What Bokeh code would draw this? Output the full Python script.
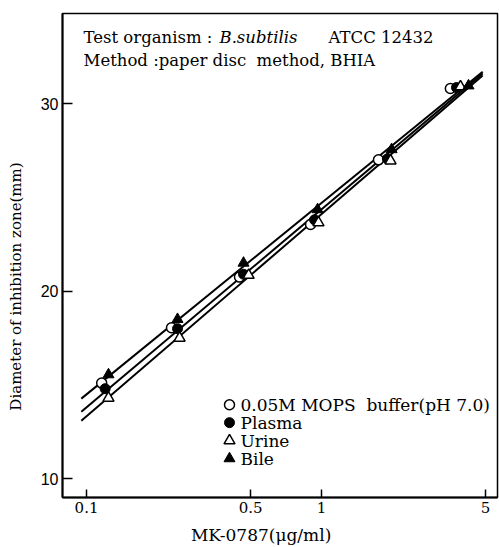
import math
from bokeh.plotting import figure
from bokeh.models import Range1d, FixedTicker, Label
from bokeh.embed import file_html
from bokeh.resources import INLINE

# ---- data ----
mops_x = [0.116, 0.230, 0.448, 0.899, 1.75, 3.54]
mops_y = [15.1, 18.05, 20.75, 23.55, 27.0, 30.8]
plasma_x = [0.120, 0.244, 0.466, 0.935, 1.91, 3.76]
plasma_y = [14.8, 18.0, 20.9, 23.8, 27.05, 30.85]
urine_x = [0.124, 0.249, 0.490, 0.972, 1.97, 3.91]
urine_y = [14.3, 17.5, 20.85, 23.65, 26.95, 30.9]
bile_x = [0.124, 0.244, 0.466, 0.963, 1.99, 4.23]
bile_y = [15.55, 18.5, 21.5, 24.35, 27.55, 30.95]

line_x = [0.095, 4.86]
line1_y = [14.27, 31.7]
line2_y = [13.57, 31.6]
line3_y = [13.09, 31.5]

x_ticks = [0.1, 0.5, 1, 5]
x_tick_labels = ["0.1", "0.5", "1", "5"]
y_ticks = [10, 20, 30]

legend_labels = ["0.05M MOPS\u00a0 buffer(pH\u00a07.0)", "Plasma", "Urine", "Bile"]

X0, X1 = 0.079, 5.62
Y0, Y1 = 9.0, 34.8
FL, FR, FT, FB = 62, 497, 13, 498
LX0, LX1 = math.log10(X0), math.log10(X1)


def xd(px):
    return 10 ** (LX0 + (px - FL) / (FR - FL) * (LX1 - LX0))


def yd(py):
    return Y1 - (py - FT) / (FB - FT) * (Y1 - Y0)


SERIF = "DejaVu Serif"
SANS = "Liberation Sans"
NB = "\u00a0"

p = figure(width=499, height=547, x_axis_type="log",
           x_range=Range1d(X0, X1), y_range=Range1d(Y0, Y1),
           output_backend="svg", toolbar_location=None,
           min_border_left=FL, min_border_right=499 - FR,
           min_border_top=FT, min_border_bottom=547 - FB)
p.grid.visible = False
p.outline_line_color = "black"
p.outline_line_width = 1.5
p.background_fill_color = "white"
p.border_fill_color = "white"

p.xaxis.ticker = FixedTicker(ticks=x_ticks)
p.xaxis.major_label_overrides = {t: s for t, s in zip(x_ticks, x_tick_labels)}
p.yaxis.ticker = FixedTicker(ticks=y_ticks)
for ax in (p.xaxis, p.yaxis):
    ax.axis_line_width = 2
    ax.axis_line_color = "black"
    ax.major_tick_line_width = 1.5
    ax.major_tick_line_color = "black"
    ax.major_tick_out = 0
    ax.minor_tick_line_color = None
    ax.major_label_text_color = "black"
    ax.axis_label_text_color = "black"
    ax.axis_label_text_font = SERIF
    ax.axis_label_text_font_style = "normal"
p.xaxis.major_tick_in = 8
p.yaxis.major_tick_in = 10
p.xaxis.major_label_text_font = SERIF
p.xaxis.major_label_text_font_size = "15px"
p.xaxis.major_label_standoff = 4
p.yaxis.major_label_text_font = SANS
p.yaxis.major_label_text_font_size = "16px"
p.yaxis.major_label_standoff = 4

p.xaxis.axis_label = "MK-0787(\u03bcg/ml)" + NB * 7
p.xaxis.axis_label_text_font_size = "17px"
p.xaxis.axis_label_standoff = 9
p.yaxis.axis_label = "Diameter of inhibition zone(mm)" + NB * 13
p.yaxis.axis_label_text_font_size = "15px"
p.yaxis.axis_label_standoff = 13

# regression lines
for ly in (line1_y, line2_y, line3_y):
    p.line(line_x, ly, line_color="black", line_width=2)

styles = [
    dict(marker="circle", size=10, fill_color="white", line_color="black", line_width=1.5),
    dict(marker="circle", size=10, fill_color="black", line_color="black", line_width=1),
    dict(marker="triangle", size=11, fill_color="white", line_color="black", line_width=1.5),
    dict(marker="triangle", size=11, fill_color="black", line_color="black", line_width=1),
]
series = [(mops_x, mops_y), (plasma_x, plasma_y), (urine_x, urine_y), (bile_x, bile_y)]
for (sx, sy), st in zip(series, styles):
    p.scatter(sx, sy, **st)

# legend (drawn manually so that the symbols keep their size)
leg_rows = [405, 423, 441, 459]
for row, st, lab in zip(leg_rows, styles, legend_labels):
    p.scatter([xd(229)], [yd(row)], **st)
    p.add_layout(Label(x=xd(240), y=yd(row), text=lab, text_font=SERIF,
                       text_font_size="17px", text_color="black",
                       text_baseline="middle", text_align="left"))

# header text
common = dict(text_font=SERIF, text_font_size="16.5px", text_color="black",
              text_baseline="alphabetic")
p.add_layout(Label(x=xd(83), y=yd(37), text="Test organism :", text_align="left", **common))
p.add_layout(Label(x=xd(219), y=yd(37), text="B.subtilis", text_align="left",
                   text_font_style="italic", **common))
p.add_layout(Label(x=xd(433), y=yd(37), text="ATCC 12432", text_align="right", **common))
p.add_layout(Label(x=xd(83), y=yd(60), text="Method :paper disc" + NB + " method, BHIA",
                   text_align="left", **common))

open("out.html", "w").write(file_html(p, INLINE))
